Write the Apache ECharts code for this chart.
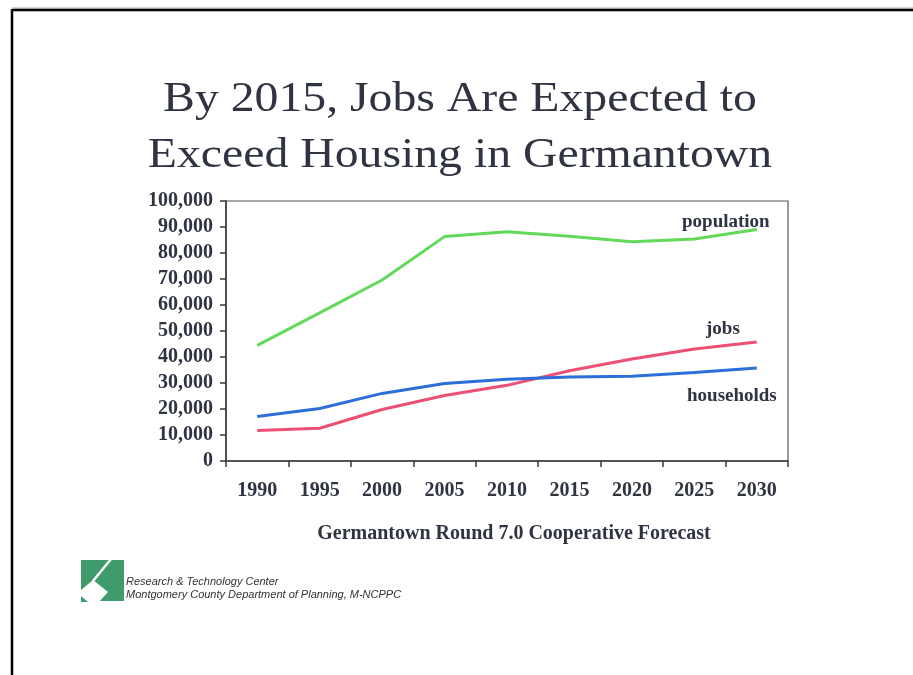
<!DOCTYPE html>
<html>
<head>
<meta charset="utf-8">
<script src="https://cdn.jsdelivr.net/npm/echarts@6/dist/echarts.min.js"></script>
<style>
html,body{margin:0;padding:0;background:#fff;}
#chart{width:913px;height:675px;}
</style>
</head>
<body>
<div id="chart"></div>
<script>
const years = ['1990','1995','2000','2005','2010','2015','2020','2025','2030'];
const population = [44500, 57000, 69600, 86300, 88200, 86400, 84300, 85400, 89000];
const jobs = [11700, 12600, 19800, 25200, 29100, 34700, 39200, 43100, 45800];
const households = [17100, 20200, 26000, 29800, 31400, 32300, 32600, 34000, 35800];
const yTicks = [0, 10000, 20000, 30000, 40000, 50000, 60000, 70000, 80000, 90000, 100000];
const titleLines = ['By 2015, Jobs Are Expected to', 'Exceed Housing in Germantown'];
const subtitle = 'Germantown Round 7.0 Cooperative Forecast';
const creditLines = ['Research & Technology Center', 'Montgomery County Department of Planning, M-NCPPC'];
const seriesNames = ['population', 'jobs', 'households'];

const serif = '"Liberation Serif", "Times New Roman", serif';
const textColor = '#2f3342';
const chart = echarts.init(document.getElementById('chart'), null, {renderer: 'canvas'});

const option = {
  animation: false,
  backgroundColor: '#ffffff',
  grid: {left: 226, right: 125, top: 201, bottom: 214, containLabel: false,
         show: true, borderColor: '#555', borderWidth: 1.2, backgroundColor: 'transparent'},
  xAxis: {
    type: 'category', data: years, boundaryGap: true,
    axisLine: {lineStyle: {color: '#3a3a3a', width: 1.5}},
    axisTick: {show: true, interval: 0, length: 6, lineStyle: {color: '#3a3a3a', width: 1.5}},
    axisLabel: {interval: 0, margin: 20, color: textColor, fontFamily: serif, fontWeight: 'bold', fontSize: 20},
    splitLine: {show: false}
  },
  yAxis: {
    type: 'value', min: yTicks[0], max: yTicks[yTicks.length - 1], interval: 10000,
    axisLine: {show: true, lineStyle: {color: '#3a3a3a', width: 1.5}},
    axisTick: {show: true, length: 6, lineStyle: {color: '#3a3a3a', width: 1.5}},
    axisLabel: {margin: 13, color: textColor, fontFamily: serif, fontWeight: 'bold', fontSize: 20,
      formatter: v => v.toLocaleString('en-US')},
    splitLine: {show: false}
  },
  series: [
    {name: seriesNames[0], type: 'line', data: population, symbol: 'none',
     lineStyle: {color: '#63d95a', width: 3}},
    {name: seriesNames[1], type: 'line', data: jobs, symbol: 'none',
     lineStyle: {color: '#ec5174', width: 3}},
    {name: seriesNames[2], type: 'line', data: households, symbol: 'none',
     lineStyle: {color: '#2c6fd8', width: 3}}
  ],
  graphic: [
    {type: 'line', shape: {x1: 12, y1: 8, x2: 913, y2: 8}, style: {stroke: '#aaa', lineWidth: 1}},
    {type: 'line', shape: {x1: 12, y1: 10, x2: 913, y2: 10}, style: {stroke: '#000', lineWidth: 2.5}},
    {type: 'line', shape: {x1: 12, y1: 9, x2: 12, y2: 675}, style: {stroke: '#000', lineWidth: 2.5}},
    {type: 'text', x: 460, y: 100, scaleX: 1.11,
     style: {text: titleLines[0], fill: textColor, font: '43px ' + serif, textAlign: 'center', textVerticalAlign: 'middle'}},
    {type: 'text', x: 460, y: 156, scaleX: 1.11,
     style: {text: titleLines[1], fill: textColor, font: '43px ' + serif, textAlign: 'center', textVerticalAlign: 'middle'}},
    {type: 'text', x: 682, y: 222,
     style: {text: seriesNames[0], fill: textColor, font: 'bold 19px ' + serif, textAlign: 'left', textVerticalAlign: 'middle'}},
    {type: 'text', x: 706, y: 329,
     style: {text: seriesNames[1], fill: textColor, font: 'bold 19px ' + serif, textAlign: 'left', textVerticalAlign: 'middle'}},
    {type: 'text', x: 687, y: 396,
     style: {text: seriesNames[2], fill: textColor, font: 'bold 19px ' + serif, textAlign: 'left', textVerticalAlign: 'middle'}},
    {type: 'text', x: 514, y: 534,
     style: {text: subtitle, fill: textColor, font: 'bold 20px ' + serif, textAlign: 'center', textVerticalAlign: 'middle'}},
    // logo
    {type: 'rect', shape: {x: 81, y: 560, width: 43, height: 41}, style: {fill: '#3f9a6c'}},
    {type: 'polyline', shape: {points: [[111, 559], [93, 581]]}, style: {stroke: '#fff', lineWidth: 2.5}},
    {type: 'polygon', shape: {points: [[81, 590], [93, 580], [108, 592], [99, 602], [81, 602]]}, style: {fill: '#fff'}},
    {type: 'polygon', shape: {points: [[81, 596], [88, 602], [81, 602]]}, style: {fill: '#3f9a6c'}},
    {type: 'text', x: 126, y: 582,
     style: {text: creditLines[0], fill: '#333', font: 'italic 11px "Liberation Sans", Arial, sans-serif', textAlign: 'left', textVerticalAlign: 'middle'}},
    {type: 'text', x: 126, y: 595,
     style: {text: creditLines[1], fill: '#333', font: 'italic 11px "Liberation Sans", Arial, sans-serif', textAlign: 'left', textVerticalAlign: 'middle'}}
  ]
};
chart.setOption(option);
</script>
</body>
</html>
